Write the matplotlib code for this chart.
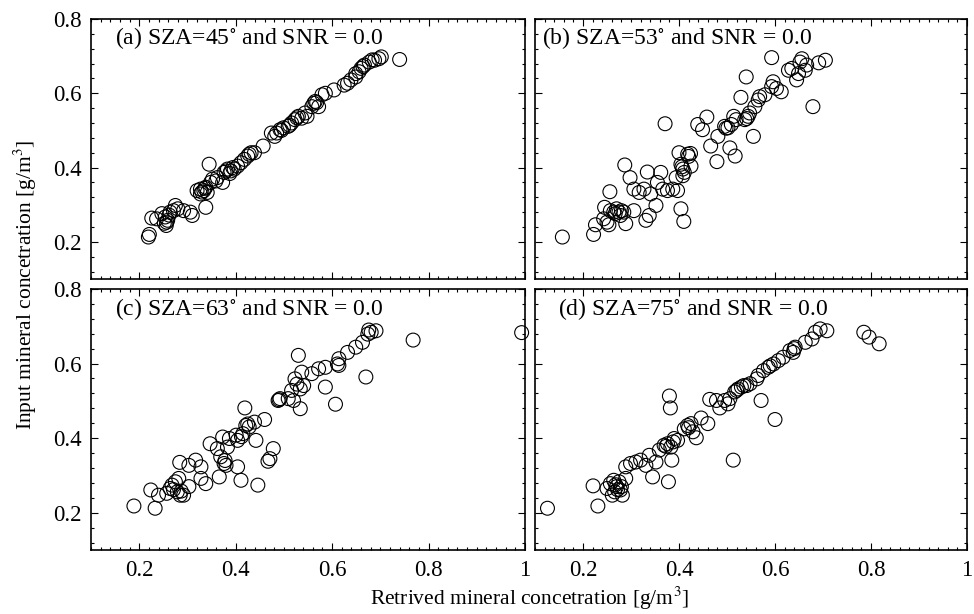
"""Four-panel scatter: retrieved vs input mineral concentration for several SZA."""

import matplotlib
matplotlib.use("Agg")
import matplotlib.pyplot as plt
from matplotlib.ticker import MultipleLocator, FuncFormatter

plt.rcParams["font.family"] = ["Liberation Serif", "DejaVu Serif"]
plt.rcParams["mathtext.fontset"] = "stix"

# ── data ────────────────────────────────────────────────────────────────────

LABELS = [
    "(a) SZA=45$^{\\circ}$ and SNR = 0.0",
    "(b) SZA=53$^{\\circ}$ and SNR = 0.0",
    "(c) SZA=63$^{\\circ}$ and SNR = 0.0",
    "(d) SZA=75$^{\\circ}$ and SNR = 0.0",
]

A_X = [0.219, 0.221, 0.226, 0.236, 0.247, 0.254, 0.257, 0.256, 0.259, 0.264,
       0.275, 0.280, 0.271, 0.292, 0.306, 0.310, 0.338, 0.345, 0.320, 0.327,
       0.334, 0.338, 0.341, 0.348, 0.359, 0.362, 0.373, 0.376, 0.383, 0.390,
       0.397, 0.404, 0.411, 0.418, 0.425, 0.432, 0.439, 0.457, 0.481, 0.485,
       0.492, 0.499, 0.509, 0.516, 0.523, 0.530, 0.537, 0.548, 0.562, 0.565,
       0.572, 0.579, 0.586, 0.604, 0.625, 0.632, 0.639, 0.649, 0.656, 0.660,
       0.667, 0.677, 0.688, 0.697, 0.702, 0.740, 0.327, 0.352, 0.380, 0.474,
       0.544, 0.558, 0.649, 0.252, 0.262, 0.330, 0.336, 0.388, 0.394, 0.428,
       0.495, 0.512, 0.527, 0.568, 0.664, 0.683]
A_Y = [0.213, 0.220, 0.264, 0.262, 0.276, 0.267, 0.253, 0.244, 0.258, 0.280,
       0.298, 0.289, 0.284, 0.284, 0.280, 0.271, 0.293, 0.409, 0.338, 0.342,
       0.338, 0.347, 0.333, 0.360, 0.364, 0.373, 0.360, 0.387, 0.396, 0.391,
       0.396, 0.404, 0.413, 0.422, 0.431, 0.440, 0.440, 0.458, 0.484, 0.493,
       0.502, 0.507, 0.511, 0.520, 0.529, 0.538, 0.533, 0.538, 0.573, 0.578,
       0.564, 0.596, 0.600, 0.609, 0.622, 0.627, 0.636, 0.644, 0.658, 0.667,
       0.676, 0.684, 0.689, 0.693, 0.698, 0.691, 0.329, 0.369, 0.391, 0.493,
       0.547, 0.564, 0.653, 0.250, 0.272, 0.334, 0.344, 0.384, 0.400, 0.436,
       0.500, 0.514, 0.534, 0.575, 0.672, 0.690]

B_X = [0.157, 0.222, 0.226, 0.243, 0.250, 0.254, 0.245, 0.257, 0.264, 0.270,
       0.275, 0.278, 0.285, 0.289, 0.306, 0.256, 0.287, 0.298, 0.306, 0.317,
       0.327, 0.334, 0.331, 0.338, 0.341, 0.352, 0.355, 0.362, 0.366, 0.376,
       0.387, 0.397, 0.394, 0.400, 0.404, 0.408, 0.411, 0.408, 0.404, 0.410,
       0.418, 0.424, 0.425, 0.371, 0.439, 0.449, 0.458, 0.466, 0.479, 0.481,
       0.495, 0.502, 0.506, 0.517, 0.509, 0.514, 0.519, 0.529, 0.540, 0.537,
       0.544, 0.547, 0.555, 0.558, 0.565, 0.568, 0.579, 0.593, 0.596, 0.603,
       0.613, 0.593, 0.628, 0.635, 0.645, 0.652, 0.656, 0.663, 0.666, 0.679,
       0.691, 0.705, 0.649, 0.267, 0.280, 0.406, 0.420, 0.498, 0.541]
B_Y = [0.213, 0.220, 0.246, 0.262, 0.253, 0.246, 0.293, 0.284, 0.280, 0.289,
       0.280, 0.271, 0.280, 0.249, 0.284, 0.335, 0.407, 0.373, 0.342, 0.333,
       0.342, 0.388, 0.258, 0.271, 0.329, 0.298, 0.360, 0.387, 0.342, 0.338,
       0.342, 0.338, 0.373, 0.440, 0.409, 0.396, 0.387, 0.378, 0.289, 0.255,
       0.436, 0.438, 0.404, 0.518, 0.516, 0.502, 0.536, 0.458, 0.416, 0.484,
       0.511, 0.507, 0.453, 0.431, 0.516, 0.538, 0.529, 0.589, 0.644, 0.529,
       0.538, 0.547, 0.484, 0.564, 0.582, 0.591, 0.596, 0.618, 0.631, 0.613,
       0.604, 0.696, 0.662, 0.667, 0.636, 0.684, 0.693, 0.662, 0.676, 0.564,
       0.682, 0.689, 0.653, 0.276, 0.284, 0.402, 0.430, 0.506, 0.532]

C_X = [0.189, 0.233, 0.224, 0.240, 0.257, 0.264, 0.268, 0.275, 0.279, 0.282,
       0.285, 0.292, 0.303, 0.284, 0.303, 0.317, 0.328, 0.328, 0.338, 0.347,
       0.362, 0.366, 0.369, 0.373, 0.376, 0.380, 0.383, 0.387, 0.401, 0.404,
       0.404, 0.411, 0.415, 0.419, 0.421, 0.428, 0.439, 0.442, 0.446, 0.460,
       0.467, 0.471, 0.478, 0.488, 0.492, 0.509, 0.516, 0.520, 0.523, 0.530,
       0.534, 0.534, 0.537, 0.541, 0.558, 0.572, 0.586, 0.586, 0.607, 0.611,
       0.614, 0.614, 0.632, 0.649, 0.663, 0.670, 0.674, 0.681, 0.691, 0.768,
       0.993, 0.271, 0.287, 0.378, 0.412, 0.425, 0.490, 0.527, 0.676]
C_Y = [0.218, 0.212, 0.261, 0.247, 0.252, 0.265, 0.274, 0.283, 0.256, 0.292,
       0.247, 0.247, 0.270, 0.335, 0.327, 0.341, 0.323, 0.292, 0.278, 0.385,
       0.372, 0.296, 0.350, 0.403, 0.332, 0.327, 0.376, 0.399, 0.408, 0.394,
       0.323, 0.287, 0.412, 0.481, 0.434, 0.430, 0.443, 0.394, 0.274, 0.450,
       0.338, 0.345, 0.372, 0.501, 0.506, 0.506, 0.528, 0.501, 0.559, 0.622,
       0.532, 0.479, 0.577, 0.541, 0.573, 0.586, 0.590, 0.537, 0.491, 0.599,
       0.595, 0.613, 0.630, 0.644, 0.657, 0.564, 0.679, 0.684, 0.688, 0.663,
       0.683, 0.262, 0.258, 0.340, 0.404, 0.438, 0.503, 0.545, 0.690]

D_X = [0.126, 0.221, 0.231, 0.250, 0.257, 0.261, 0.264, 0.266, 0.270, 0.275,
       0.278, 0.282, 0.289, 0.289, 0.299, 0.310, 0.320, 0.331, 0.338, 0.345,
       0.352, 0.359, 0.369, 0.376, 0.380, 0.382, 0.378, 0.383, 0.385, 0.390,
       0.397, 0.411, 0.418, 0.425, 0.429, 0.436, 0.446, 0.460, 0.464, 0.478,
       0.485, 0.495, 0.502, 0.506, 0.513, 0.516, 0.523, 0.530, 0.541, 0.548,
       0.562, 0.565, 0.571, 0.576, 0.586, 0.597, 0.600, 0.607, 0.617, 0.631,
       0.638, 0.642, 0.663, 0.677, 0.684, 0.694, 0.708, 0.785, 0.796, 0.817,
       0.268, 0.272, 0.280, 0.373, 0.388, 0.420, 0.520, 0.535, 0.590, 0.640]
D_Y = [0.212, 0.272, 0.218, 0.265, 0.278, 0.247, 0.287, 0.256, 0.270, 0.283,
       0.261, 0.247, 0.292, 0.323, 0.332, 0.336, 0.341, 0.327, 0.354, 0.296,
       0.336, 0.368, 0.381, 0.385, 0.513, 0.481, 0.283, 0.376, 0.341, 0.399,
       0.394, 0.425, 0.434, 0.439, 0.417, 0.401, 0.454, 0.439, 0.504, 0.501,
       0.481, 0.501, 0.492, 0.506, 0.341, 0.524, 0.532, 0.537, 0.541, 0.546,
       0.559, 0.568, 0.501, 0.581, 0.590, 0.599, 0.450, 0.608, 0.617, 0.635,
       0.630, 0.644, 0.657, 0.666, 0.684, 0.693, 0.688, 0.684, 0.671, 0.653,
       0.275, 0.262, 0.270, 0.378, 0.390, 0.428, 0.528, 0.541, 0.594, 0.640]

PANELS = [(A_X, A_Y), (B_X, B_Y), (C_X, C_Y), (D_X, D_Y)]

W, H = 974, 614
BOXES = [
    (91, 19, 434, 260),
    (535, 19, 432, 260),
    (91, 289, 434, 261),
    (535, 289, 432, 261),
]
TEXT_X = [0.055, 0.016, 0.055, 0.053]

fig = plt.figure(figsize=(W / 100, H / 100), dpi=100)
fmt = FuncFormatter(lambda v, _: f"{v:g}")

for i, ((xs, ys), (l, t, w, h)) in enumerate(zip(PANELS, BOXES)):
    ax = fig.add_axes([l / W, 1 - (t + h) / H, w / W, h / H])
    ax.scatter(xs, ys, s=100, facecolors="none", edgecolors="black",
               linewidths=0.8, clip_on=False)
    ax.set_xlim(0.1, 1.0)
    ax.set_ylim(0.1, 0.8)
    ax.xaxis.set_major_locator(MultipleLocator(0.2))
    ax.xaxis.set_minor_locator(MultipleLocator(0.02))
    ax.yaxis.set_major_locator(MultipleLocator(0.2))
    ax.yaxis.set_minor_locator(MultipleLocator(0.04))
    ax.xaxis.set_major_formatter(fmt)
    ax.yaxis.set_major_formatter(fmt)
    ax.tick_params(which="both", direction="in", top=True, right=True,
                   labelsize=16.5, width=0.8)
    ax.tick_params(which="major", length=5, pad=7)
    ax.tick_params(which="minor", length=2.5)
    for sp in ax.spines.values():
        sp.set_linewidth(1.2)
    if i % 2 == 1:
        ax.tick_params(labelleft=False)
    if i < 2:
        ax.tick_params(labelbottom=False)
    ax.text(TEXT_X[i], 0.925, LABELS[i], transform=ax.transAxes,
            fontsize=17, ha="left", va="center")

fig.text(530 / W, 1 - 598 / H, "Retrived mineral concetration [g/m$^3$]",
         ha="center", va="center", fontsize=15.5)
fig.text(25 / W, 1 - 285 / H, "Input mineral concetration [g/m$^3$]",
         ha="center", va="center", rotation=90, fontsize=15.5)

fig.savefig("out.png", dpi=100, facecolor="white")
